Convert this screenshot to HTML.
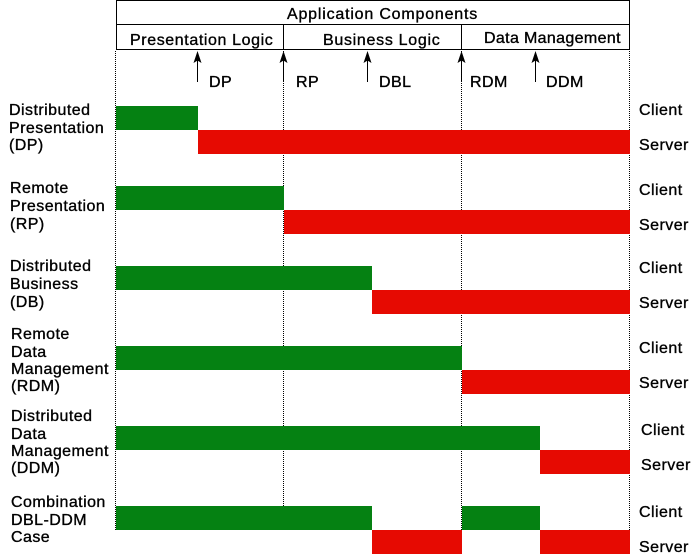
<!DOCTYPE html>
<html>
<head>
<meta charset="utf-8">
<title>Client-Server Distribution Cases</title>
<style>
html,body{margin:0;padding:0;background:#fff;}
#chart{display:block;width:700px;height:560px;}
text{font-family:"Liberation Sans",Arial,sans-serif;font-size:16px;fill:#000;stroke:#000;stroke-width:.35px;letter-spacing:.45px;}
</style>
</head>
<body>
<svg id="chart" xmlns="http://www.w3.org/2000/svg" width="700" height="560" viewBox="0 0 700 560">
  <rect x="116.5" y="0.5" width="513" height="24" fill="#fff" stroke="#000"/>
  <rect x="116.5" y="24.5" width="513" height="25" fill="#fff" stroke="#000"/>
  <line x1="283.5" y1="24" x2="283.5" y2="50" stroke="#000"/>
  <line x1="461.5" y1="24" x2="461.5" y2="50" stroke="#000"/>
  <text x="287" y="19" style="letter-spacing:.8px">Application Components</text>
  <text x="130" y="45" style="letter-spacing:.6px">Presentation Logic</text>
  <text x="323" y="45" style="letter-spacing:.7px">Business Logic</text>
  <text x="484" y="43" style="letter-spacing:.35px">Data Management</text>
  <g id="guides"></g>
  <g id="bars"></g>
  <g id="arrows"></g>
  <g>
    <text x="9" y="115">Distributed</text>
    <text x="9" y="133">Presentation</text>
    <text x="9" y="150">(DP)</text>
    <text x="10" y="193">Remote</text>
    <text x="10" y="211">Presentation</text>
    <text x="10" y="229">(RP)</text>
    <text x="10" y="271">Distributed</text>
    <text x="10" y="289">Business</text>
    <text x="10" y="307">(DB)</text>
    <text x="11" y="339">Remote</text>
    <text x="11" y="357">Data</text>
    <text x="11" y="374">Management</text>
    <text x="11" y="391">(RDM)</text>
    <text x="11" y="421">Distributed</text>
    <text x="11" y="439">Data</text>
    <text x="11" y="456">Management</text>
    <text x="11" y="473">(DDM)</text>
    <text x="11" y="507">Combination</text>
    <text x="11" y="525">DBL-DDM</text>
    <text x="11" y="542">Case</text>
  </g>
  <g>
    <text x="639" y="115">Client</text>
    <text x="639" y="150">Server</text>
    <text x="639" y="195">Client</text>
    <text x="639" y="230">Server</text>
    <text x="639" y="273">Client</text>
    <text x="639" y="308">Server</text>
    <text x="639" y="353">Client</text>
    <text x="639" y="388">Server</text>
    <text x="641" y="435">Client</text>
    <text x="641" y="470">Server</text>
    <text x="639" y="517">Client</text>
    <text x="639" y="552">Server</text>
  </g>
</svg>
<script>
// Positions along the application-component span, as a percentage
const cutNames = ['DP', 'RP', 'DBL', 'RDM', 'DDM'];
const arrowValues = [16, 32.7, 49, 67.3, 81.7];
const guideValues = [0, 32.7, 67.3, 100];
const caseNames = ['dp', 'rp', 'db', 'rdm', 'ddm', 'combination'];
const clientSpans = [
  [[0, 16]],
  [[0, 32.7]],
  [[0, 49.8]],
  [[0, 67.3]],
  [[0, 82.5]],
  [[0, 49.8], [67.3, 82.5]]
];
const serverSpans = [
  [[16, 100]],
  [[32.7, 100]],
  [[49.8, 100]],
  [[67.3, 100]],
  [[82.5, 100]],
  [[49.8, 67.3], [82.5, 100]]
];

const NS = 'http://www.w3.org/2000/svg';
const xAxis = v => 116 + v / 100 * 514;
const yAxis = i => 106 + i * 80;
const BAR_H = 24;

function make(tag, attrs, parent) {
  const el = document.createElementNS(NS, tag);
  for (const k in attrs) el.setAttribute(k, attrs[k]);
  parent.appendChild(el);
  return el;
}

const guides = document.getElementById('guides');
guideValues.forEach((v, i) => {
  const px = Math.round(xAxis(v)) - 0.5;
  const bottom = i === 1 ? 506 : 530;
  const line = make('line', {x1: px, y1: 51, x2: px, y2: bottom, stroke: '#000', 'stroke-width': 1, 'stroke-dasharray': '1 1'}, guides);
  
  
});

const bars = document.getElementById('bars');
function drawBars(spans, rowOffset, color, tier) {
  spans.forEach((list, i) => {
    list.forEach(span => {
      const x0 = Math.round(xAxis(span[0]));
      const x1 = Math.round(xAxis(span[1]));
      const r = make('rect', {x: x0, y: yAxis(i) + rowOffset, width: x1 - x0, height: BAR_H, fill: color}, bars);
      
      
    });
  });
}
drawBars(clientSpans, 0, '#058112', 'client');
drawBars(serverSpans, BAR_H, '#e60a02', 'server');

const arrows = document.getElementById('arrows');
const labelOffsets = [11.5, 12.5, 11.5, 8.5, 10.5];
arrowValues.forEach((v, i) => {
  const px = Math.round(xAxis(v)) - 0.5;
  const g = make('g', {}, arrows);
  
  
  make('line', {x1: px, y1: 56, x2: px, y2: 82, stroke: '#000', 'stroke-width': 1}, g);
  make('path', {d: `M${px} 51 L${px + 4} 63 L${px} 60.5 L${px - 4} 63 Z`, fill: '#000'}, g);
  const t = make('text', {x: px + labelOffsets[i], y: 87}, g);
  t.textContent = cutNames[i];
  
  
});
</script>
</body>
</html>
